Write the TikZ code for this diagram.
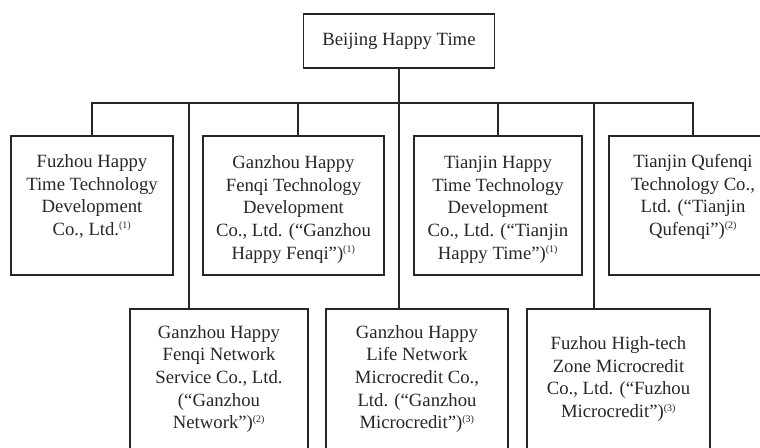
\documentclass[tikz,border=0pt]{standalone}
\usepackage{fontspec}
\setmainfont{Liberation Serif}
\newcommand{\fnref}[1]{\textsuperscript{\fontsize{10}{10}\selectfont(#1)}}
\newcommand{\padtop}{\rule{0pt}{21pt}}

\begin{document}
\begin{tikzpicture}[x=1pt,y=-1pt,line width=1.2pt,
    unit/.style={draw=black!85, text=black!85, align=center, inner sep=0pt,
        font=\fontsize{18.7}{22.6}\selectfont, minimum height=139},
    lowunit/.style={unit, minimum height=140}]
	\useasboundingbox (0,0) rectangle (760,447);
    \clip (0,0) rectangle (760,447);

    \node[unit, minimum width=191, minimum height=54] (top) at (399,41) {Beijing Happy Time};

    \node[unit, minimum width=162] (fuzhou) at (92,205.5) {\padtop Fuzhou Happy\\Time Technology\\Development\\Co., Ltd.\fnref{1}\\\strut};
    \node[unit, minimum width=181] (fenqi) at (293.5,205.5) {\padtop Ganzhou Happy\\Fenqi Technology\\Development\\Co., Ltd. (“Ganzhou\\Happy Fenqi”)\fnref{1}};
    \node[unit, minimum width=168] (tianjin) at (498,205.5) {\padtop Tianjin Happy\\Time Technology\\Development\\Co., Ltd. (“Tianjin\\Happy Time”)\fnref{1}};
    \node[unit, minimum width=168] (qufenqi) at (693,205.5) {\padtop Tianjin Qufenqi\\Technology Co.,\\Ltd. (“Tianjin\\Qufenqi”)\fnref{2}\\\strut};

    \node[lowunit, minimum width=178] (network) at (219,379) {Ganzhou Happy\\Fenqi Network\\Service Co., Ltd.\\(“Ganzhou\\Network”)\fnref{2}};
    \node[lowunit, minimum width=182] (gzmicro) at (417,379) {Ganzhou Happy\\Life Network\\Microcredit Co.,\\Ltd. (“Ganzhou\\Microcredit”)\fnref{3}};
    \node[lowunit, minimum width=183] (fzmicro) at (618.5,379) {Fuzhou High-tech\\Zone Microcredit\\Co., Ltd. (“Fuzhou\\Microcredit”)\fnref{3}};

    \coordinate (bus) at (399,103);
    \coordinate (gapW) at (189,103);
    \coordinate (gapE) at (594,103);

    \draw[black!85] (top) -- (top.south |- gzmicro.north);
    \draw[black!85] (fuzhou.north) |- (bus) -| (qufenqi.north);
    \draw[black!85] ([xshift=4.5pt]fenqi.north |- bus) -- ([xshift=4.5pt]fenqi.north);
    \draw[black!85] (bus -| tianjin.north) -- (tianjin.north);
    \draw[black!85] (gapW) -- (gapW |- network.north);
    \draw[black!85] (gapE) -- (gapE |- fzmicro.north);
\end{tikzpicture}
\end{document}
